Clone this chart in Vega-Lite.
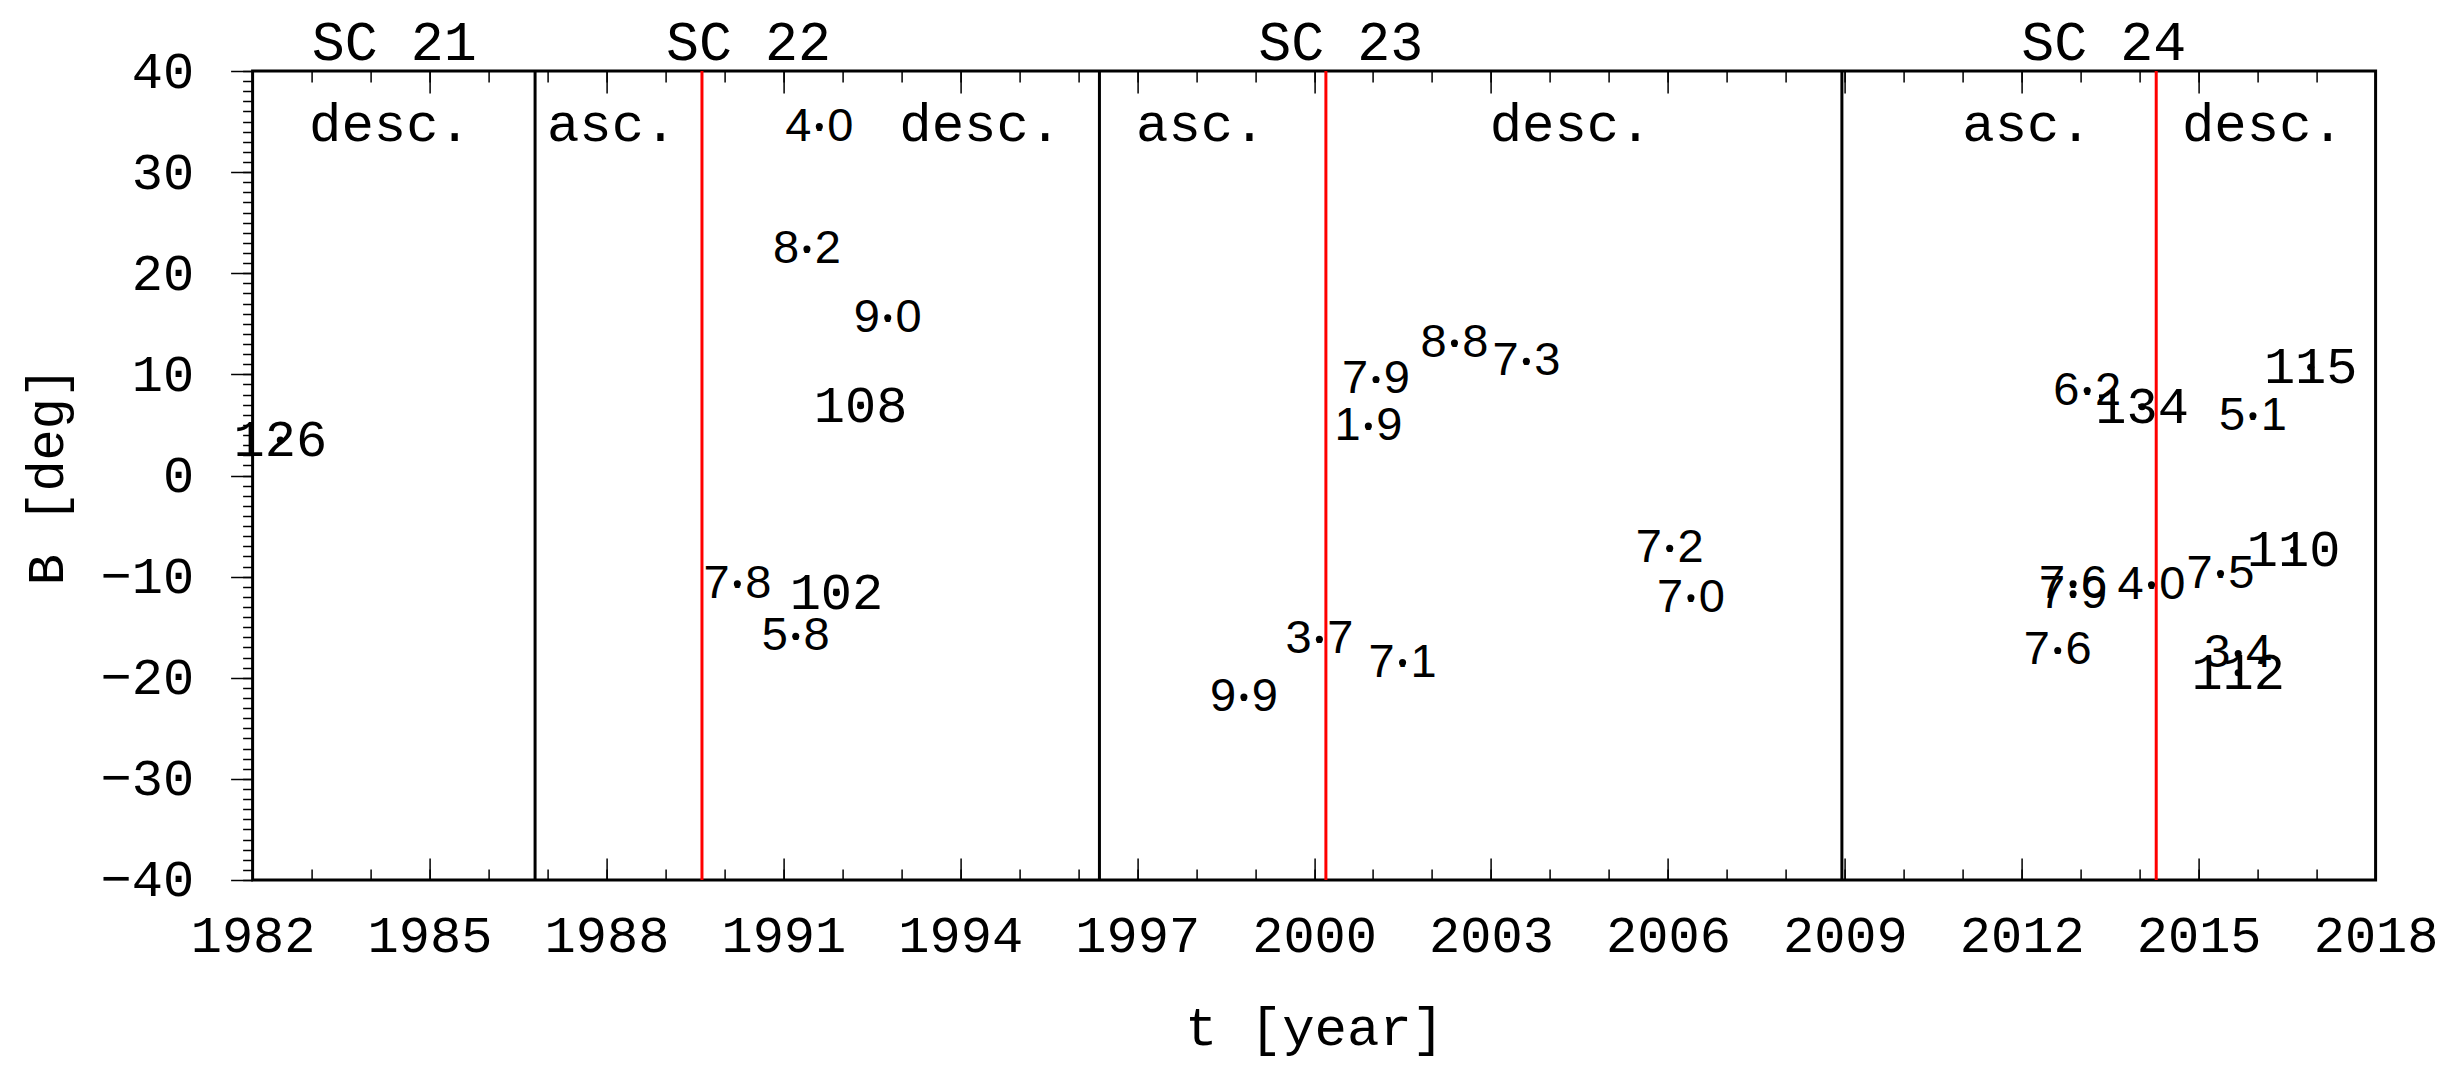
{
  "$schema": "https://vega.github.io/schema/vega-lite/v6.json",
  "width": 2123,
  "height": 809,
  "autosize": {"type": "none"},
  "padding": {"left": 252.6, "top": 71, "right": 80, "bottom": 193},
  "background": "white",
  "config": {
    "view": {"stroke": "black", "strokeWidth": 3},
    "font": "Liberation Mono",
    "axis": {
      "grid": false,
      "domain": false,
      "tickColor": "black",
      "tickWidth": 1.5,
      "labelColor": "black",
      "titleColor": "black",
      "labelFont": "Liberation Mono",
      "titleFont": "Liberation Mono",
      "titleFontWeight": "normal",
      "labelFlush": false,
      "labelOverlap": false
    }
  },
  "datasets": {
    "points": [
      {"t": 1982.47, "B": 3.5, "label": "126"},
      {"t": 1991.61, "B": 34.5, "label": "4·0"},
      {"t": 1991.40, "B": 22.4, "label": "8·2"},
      {"t": 1992.77, "B": 15.6, "label": "9·0"},
      {"t": 1992.31, "B": 6.9, "label": "108"},
      {"t": 1990.22, "B": -10.7, "label": "7·8"},
      {"t": 1991.21, "B": -15.9, "label": "5·8"},
      {"t": 1991.90, "B": -11.6, "label": "102"},
      {"t": 1998.81, "B": -21.9, "label": "9·9"},
      {"t": 2000.09, "B": -16.2, "label": "3·7"},
      {"t": 2001.05, "B": 9.5, "label": "7·9"},
      {"t": 2000.92, "B": 4.9, "label": "1·9"},
      {"t": 2002.38, "B": 13.1, "label": "8·8"},
      {"t": 2003.60, "B": 11.3, "label": "7·3"},
      {"t": 2001.50, "B": -18.5, "label": "7·1"},
      {"t": 2006.03, "B": -7.2, "label": "7·2"},
      {"t": 2006.39, "B": -12.1, "label": "7·0"},
      {"t": 2013.11, "B": 8.4, "label": "6·2"},
      {"t": 2014.04, "B": 6.8, "label": "134"},
      {"t": 2015.92, "B": 5.9, "label": "5·1"},
      {"t": 2016.90, "B": 10.7, "label": "115"},
      {"t": 2012.87, "B": -10.7, "label": "7·6"},
      {"t": 2012.87, "B": -11.7, "label": "7·9"},
      {"t": 2012.61, "B": -17.3, "label": "7·6"},
      {"t": 2014.20, "B": -10.8, "label": "4·0"},
      {"t": 2015.37, "B": -9.7, "label": "7·5"},
      {"t": 2016.61, "B": -7.4, "label": "110"},
      {"t": 2015.67, "B": -17.6, "label": "3·4"},
      {"t": 2015.67, "B": -19.5, "label": "112"}
    ],
    "minima": [{"t": 1986.79}, {"t": 1996.36}, {"t": 2008.95}],
    "maxima": [{"t": 1989.62}, {"t": 2000.2}, {"t": 2014.28}],
    "phases": [
      {"t": 1984.33, "B": 33.06, "label": "desc."},
      {"t": 1988.09, "B": 33.06, "label": "asc."},
      {"t": 1994.34, "B": 33.06, "label": "desc."},
      {"t": 1998.08, "B": 33.06, "label": "asc."},
      {"t": 2004.35, "B": 33.06, "label": "desc."},
      {"t": 2012.09, "B": 33.06, "label": "asc."},
      {"t": 2016.09, "B": 33.06, "label": "desc."}
    ],
    "cycles": [
      {"t": 1984.40, "B": 41.07, "label": "SC 21"},
      {"t": 1990.41, "B": 41.07, "label": "SC 22"},
      {"t": 2000.45, "B": 41.07, "label": "SC 23"},
      {"t": 2013.39, "B": 41.07, "label": "SC 24"}
    ]
  },
  "resolve": {"axis": {"x": "independent", "y": "independent"}},
  "layer": [
    {
      "mark": {"type": "rule", "color": "black", "strokeWidth": 1.2},
      "encoding": {
        "y": {
          "datum": 0,
          "type": "quantitative",
          "scale": {"domain": [-40, 40], "nice": false, "zero": false},
          "axis": {
            "orient": "left",
            "values": [-40, -30, -20, -10, 0, 10, 20, 30, 40],
            "format": "d",
            "tickSize": 22,
            "labelPadding": 37,
            "labelFontSize": 52,
            "title": "B [deg]",
            "titleFontSize": 52,
            "titlePadding": 26
          }
        }
      }
    },
    {
      "data": {"name": "minima"},
      "mark": {"type": "rule", "color": "black", "strokeWidth": 3},
      "encoding": {
        "x": {
          "field": "t",
          "type": "quantitative",
          "scale": {"domain": [1982, 2018], "nice": false, "zero": false},
          "axis": {
            "orient": "bottom",
            "values": [1982, 1985, 1988, 1991, 1994, 1997, 2000, 2003, 2006, 2009, 2012, 2015, 2018],
            "format": "d",
            "ticks": false,
            "labelPadding": 31,
            "labelFontSize": 52,
            "title": "t [year]",
            "titleFontSize": 54,
            "titlePadding": 40
          }
        }
      }
    },
    {
      "data": {"name": "maxima"},
      "mark": {"type": "rule", "color": "#ff0000", "strokeWidth": 3},
      "encoding": {
        "x": {
          "field": "t",
          "type": "quantitative",
          "scale": {"domain": [1982, 2018], "nice": false, "zero": false},
          "axis": {
            "orient": "bottom",
            "values": [1982, 1985, 1988, 1991, 1994, 1997, 2000, 2003, 2006, 2009, 2012, 2015, 2018],
            "labels": false,
            "tickSize": -22,
            "title": null
          }
        }
      }
    },
    {
      "data": {"name": "points"},
      "transform": [{"filter": "indexof(datum.label, '·') < 0"}],
      "mark": {"type": "text", "font": "Liberation Mono", "fontSize": 52, "align": "center", "baseline": "middle", "color": "black"},
      "encoding": {
        "x": {
          "field": "t",
          "type": "quantitative",
          "scale": {"domain": [1982, 2018], "nice": false, "zero": false},
          "axis": {
            "orient": "bottom",
            "values": [1982, 1983, 1984, 1985, 1986, 1987, 1988, 1989, 1990, 1991, 1992, 1993, 1994, 1995, 1996, 1997, 1998, 1999, 2000, 2001, 2002, 2003, 2004, 2005, 2006, 2007, 2008, 2009, 2010, 2011, 2012, 2013, 2014, 2015, 2016, 2017, 2018],
            "labels": false,
            "tickSize": -11,
            "title": null
          }
        },
        "y": {
          "field": "B",
          "type": "quantitative",
          "scale": {"domain": [-40, 40], "nice": false, "zero": false},
          "axis": {
            "orient": "left",
            "values": [-40, -39, -38, -37, -36, -35, -34, -33, -32, -31, -30, -29, -28, -27, -26, -25, -24, -23, -22, -21, -20, -19, -18, -17, -16, -15, -14, -13, -12, -11, -10, -9, -8, -7, -6, -5, -4, -3, -2, -1, 0, 1, 2, 3, 4, 5, 6, 7, 8, 9, 10, 11, 12, 13, 14, 15, 16, 17, 18, 19, 20, 21, 22, 23, 24, 25, 26, 27, 28, 29, 30, 31, 32, 33, 34, 35, 36, 37, 38, 39, 40],
            "labels": false,
            "tickSize": 10,
            "title": null
          }
        },
        "text": {"field": "label", "type": "nominal"}
      }
    },
    {
      "data": {"name": "points"},
      "transform": [{"filter": "indexof(datum.label, '·') >= 0"}],
      "mark": {"type": "text", "font": "Liberation Sans", "fontSize": 47, "align": "center", "baseline": "middle", "color": "black"},
      "encoding": {
        "x": {
          "field": "t",
          "type": "quantitative",
          "scale": {"domain": [1982, 2018], "nice": false, "zero": false},
          "axis": {
            "orient": "top",
            "values": [1982, 1985, 1988, 1991, 1994, 1997, 2000, 2003, 2006, 2009, 2012, 2015, 2018],
            "labels": false,
            "tickSize": -22,
            "title": null
          }
        },
        "y": {
          "field": "B",
          "type": "quantitative",
          "scale": {"domain": [-40, 40], "nice": false, "zero": false},
          "axis": null
        },
        "text": {"field": "label", "type": "nominal"}
      }
    },
    {
      "data": {"name": "points"},
      "mark": {"type": "point", "shape": "circle", "filled": true, "color": "black", "size": 50, "opacity": 1},
      "encoding": {
        "x": {
          "field": "t",
          "type": "quantitative",
          "scale": {"domain": [1982, 2018], "nice": false, "zero": false},
          "axis": {
            "orient": "top",
            "values": [1982, 1983, 1984, 1985, 1986, 1987, 1988, 1989, 1990, 1991, 1992, 1993, 1994, 1995, 1996, 1997, 1998, 1999, 2000, 2001, 2002, 2003, 2004, 2005, 2006, 2007, 2008, 2009, 2010, 2011, 2012, 2013, 2014, 2015, 2016, 2017, 2018],
            "labels": false,
            "tickSize": -11,
            "title": null
          }
        },
        "y": {
          "field": "B",
          "type": "quantitative",
          "scale": {"domain": [-40, 40], "nice": false, "zero": false},
          "axis": null
        }
      }
    },
    {
      "data": {"name": "phases"},
      "mark": {"type": "text", "font": "Liberation Mono", "fontSize": 54, "align": "center", "baseline": "alphabetic", "color": "black"},
      "encoding": {
        "x": {"field": "t", "type": "quantitative", "scale": {"domain": [1982, 2018], "nice": false, "zero": false}, "axis": null},
        "y": {"field": "B", "type": "quantitative", "scale": {"domain": [-40, 40], "nice": false, "zero": false}, "axis": null},
        "text": {"field": "label", "type": "nominal"}
      }
    },
    {
      "data": {"name": "cycles"},
      "mark": {"type": "text", "font": "Liberation Mono", "fontSize": 55, "align": "center", "baseline": "alphabetic", "color": "black", "clip": false},
      "encoding": {
        "x": {"field": "t", "type": "quantitative", "scale": {"domain": [1982, 2018], "nice": false, "zero": false}, "axis": null},
        "y": {"field": "B", "type": "quantitative", "scale": {"domain": [-40, 40], "nice": false, "zero": false}, "axis": null},
        "text": {"field": "label", "type": "nominal"}
      }
    }
  ]
}
